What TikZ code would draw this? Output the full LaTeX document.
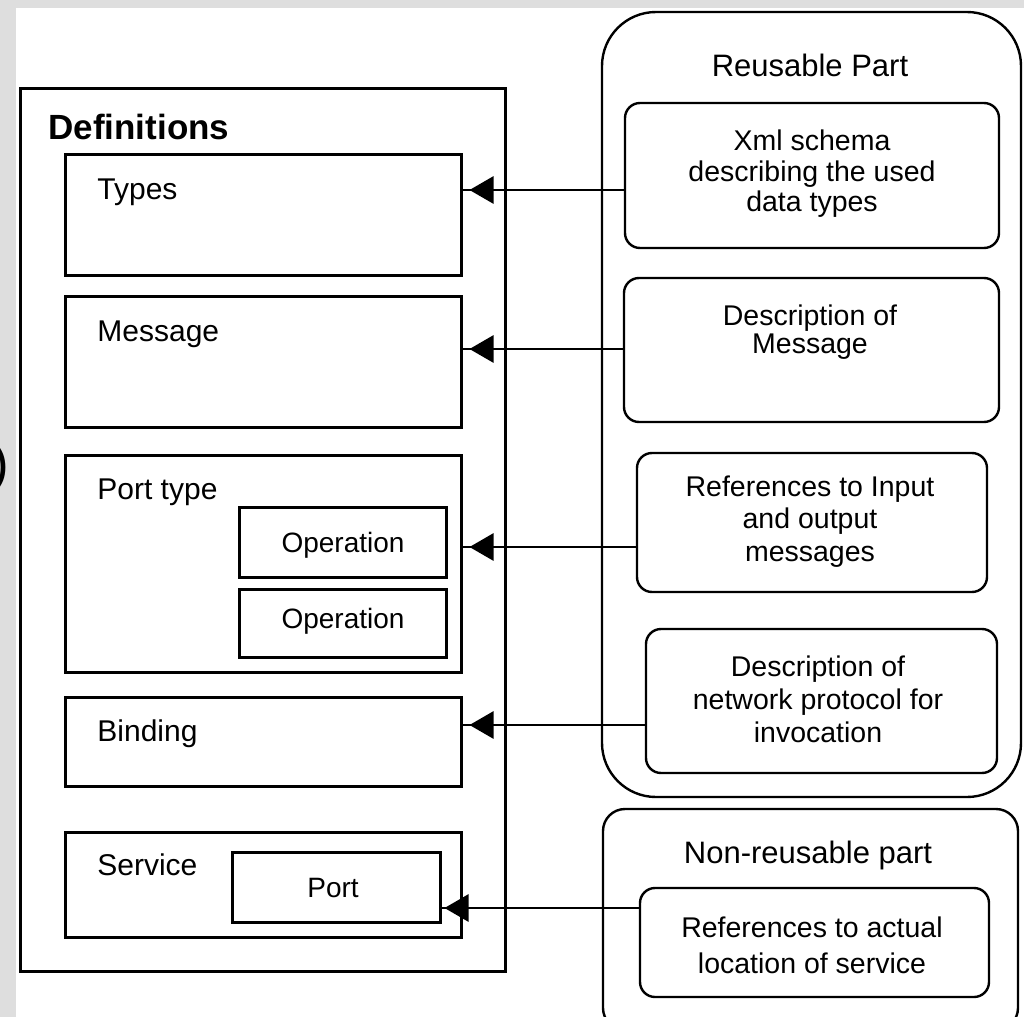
\documentclass[tikz,border=0pt]{standalone}
\usepackage{fontspec}
\setmainfont{Liberation Sans}
\usetikzlibrary{arrows.meta,calc}
\definecolor{bggray}{HTML}{DEDEDE}
\tikzset{
  box/.style={draw, line width=1.5pt, rectangle, inner sep=0pt},
  rbox/.style={draw, line width=1.2pt, rectangle, rounded corners=7.5pt, inner sep=0pt},
  bigrbox/.style={draw, line width=1.2pt, rectangle, rounded corners=27pt, inner sep=0pt},
  lbl/.style={anchor=base west, inner sep=0pt, font=\fontsize{15pt}{18pt}\selectfont},
  oplbl/.style={anchor=base, inner sep=0pt, font=\fontsize{14pt}{17pt}\selectfont},
  ctxt/.style={anchor=base, inner sep=0pt, font=\fontsize{14.25pt}{17pt}\selectfont},
  ttl/.style={anchor=base, inner sep=0pt, font=\fontsize{15.5pt}{18pt}\selectfont},
  conn/.style={line width=1.4pt},
  tipa/.style={line width=1.4pt, -{Triangle[length=12pt,width=13.5pt]}},
}
\begin{document}
\begin{tikzpicture}[x=0.5pt,y=-0.5pt]
\useasboundingbox (0,0) rectangle (1024,1017);
\fill[bggray] (0,0) rectangle (1024,1017);
\fill[white] (16,8) rectangle (1024,1017);
\node[anchor=base east, inner sep=0pt, font=\fontsize{26.5pt}{30pt}\selectfont] (paren) at (10,481) {)};

% Left: definitions
\node[box, minimum width=242.5pt, minimum height=441.5pt] (defs) at (262.5,529.5) {};
\node[anchor=base west, inner sep=0pt, font=\bfseries\fontsize{17.5pt}{20pt}\selectfont] (defsl) at (48,139) {Definitions};

\node[box, minimum width=198pt, minimum height=60.5pt] (types) at (263,214.5) {};
\node[lbl] (typesl) at (97,199) {Types};

\node[box, minimum width=198pt, minimum height=65.5pt] (msg) at (263,361.5) {};
\node[lbl] (msgl) at (97,341) {Message};

\node[box, minimum width=198pt, minimum height=108.5pt] (ptype) at (263,563.5) {};
\node[lbl] (ptypel) at (97,499) {Port type};
\node[box, minimum width=103.5pt, minimum height=35pt] (op1) at (342.5,542) {};
\node[oplbl] (op1l) at (343,552) {Operation};
\node[box, minimum width=103.5pt, minimum height=34pt] (op2) at (342.5,623) {};
\node[oplbl] (op2l) at (343,628) {Operation};

\node[box, minimum width=198pt, minimum height=44.5pt] (bind) at (263,741.5) {};
\node[lbl] (bindl) at (97,741) {Binding};

\node[box, minimum width=198pt, minimum height=52.5pt] (serv) at (263,884.5) {};
\node[lbl] (servl) at (97,875) {Service};
\node[box, minimum width=104pt, minimum height=35pt] (port) at (336,887) {};
\node[oplbl] (portl) at (333,897) {Port};

% Right: reusable part
\node[bigrbox, minimum width=209.5pt, minimum height=392.5pt] (reuse) at (811.5,404.5) {};
\node[ttl] (reusel) at (810,76) {Reusable Part};

\node[rbox, minimum width=187pt, minimum height=72.5pt] (xml) at (812,175.5) {};
\node[ctxt] (xml1) at (812,150) {Xml schema};
\node[ctxt] (xml2) at (812,181) {describing the used};
\node[ctxt] (xml3) at (812,211) {data types};

\node[rbox, minimum width=187.5pt, minimum height=72pt] (dmsg) at (811.5,350) {};
\node[ctxt] (dmsg1) at (810,325) {Description of};
\node[ctxt] (dmsg2) at (810,353) {Message};

\node[rbox, minimum width=175pt, minimum height=69.5pt] (refin) at (812,522.5) {};
\node[ctxt] (refin1) at (810,496) {References to Input};
\node[ctxt] (refin2) at (810,528) {and output};
\node[ctxt] (refin3) at (810,561) {messages};

\node[rbox, minimum width=175.5pt, minimum height=72pt] (dnet) at (821.5,701) {};
\node[ctxt] (dnet1) at (818,676) {Description of};
\node[ctxt] (dnet2) at (818,709) {network protocol for};
\node[ctxt] (dnet3) at (818,742) {invocation};

% Non-reusable part
\begin{scope}
\clip (0,0) rectangle (1024,1017);
\node[draw, line width=1.2pt, rectangle, rounded corners=11pt, inner sep=0pt, minimum width=207.5pt, minimum height=110.5pt] (nonre) at (810.5,919.5) {};
\end{scope}
\node[ttl] (nonrel) at (808,863) {Non-reusable part};
\node[rbox, minimum width=174.5pt, minimum height=54.5pt] (refact) at (814.5,942.5) {};
\node[ctxt] (refact1) at (812,937) {References to actual};
\node[ctxt] (refact2) at (812,973) {location of service};

% connector heights
\coordinate (ya) at (0,190);
\coordinate (yb) at (0,349);
\coordinate (yc) at (0,547);
\coordinate (yd) at (0,725);
\coordinate (ye) at (0,908);

\coordinate (sa) at (xml.west |- ya);   \coordinate (ta) at (types.east |- ya);
\coordinate (sb) at (dmsg.west |- yb);  \coordinate (tb) at (msg.east |- yb);
\coordinate (sc) at (refin.west |- yc); \coordinate (tc) at (ptype.east |- yc);
\coordinate (sd) at (dnet.west |- yd);  \coordinate (td) at (bind.east |- yd);
\coordinate (se) at (refact.west |- ye);\coordinate (te) at (port.east |- ye);

\draw[conn] (sa) -- (ta);
\draw[tipa] (sa) -- ([xshift=3.5pt]ta);
\draw[conn] (sb) -- (tb);
\draw[tipa] (sb) -- ([xshift=3.5pt]tb);
\draw[conn] (sc) -- (tc);
\draw[tipa] (sc) -- ([xshift=3.5pt]tc);
\draw[conn] (sd) -- (td);
\draw[tipa] (sd) -- ([xshift=3.5pt]td);
\draw[conn] (se) -- (te);
\draw[tipa] (se) -- ([xshift=1.5pt]te);
\end{tikzpicture}
\end{document}
